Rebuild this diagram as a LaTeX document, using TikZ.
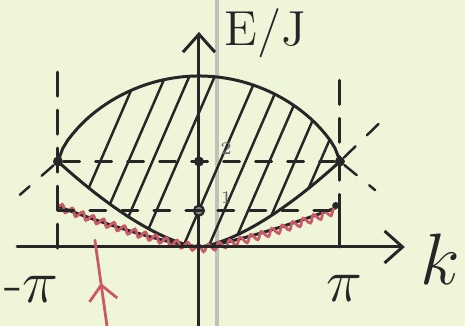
\documentclass[tikz,border=0pt]{standalone}
\usepackage{tikz}
\usetikzlibrary{arrows.meta, decorations.pathmorphing, decorations.markings, positioning}
\definecolor{paper}{HTML}{EEF5D8}
\definecolor{ink}{HTML}{262626}
\definecolor{redink}{HTML}{C95A68}
\definecolor{margin}{HTML}{BEC2B9}

\begin{document}
\begin{tikzpicture}[x=1.41cm, y=.4275cm, line cap=round,
    inkline/.style={draw=ink, line width=.85pt},
    longdash/.style={inkline, dash pattern=on 2.4mm off 1.4mm},
    shortdash/.style={inkline, dash pattern=on 1.6mm off 1.6mm},
    barb/.style={-{Straight Barb[length=1.8mm, width=3.2mm]}},
    dot/.style={circle, fill=ink, inner sep=0pt, minimum size=1mm},
    wavy/.style={draw=redink, line width=.8pt, decorate,
      decoration={snake, amplitude=.35mm, segment length=1.1mm}}]
        \useasboundingbox[fill=paper] (-1.411,-1.848) rectangle (1.887,5.778);
        \draw[margin, line width=1.3pt] (.128,-1.848) -- (.128,5.778);
        \def\upper{2+2*max(1-\x*\x,0.00001)^0.7}
        \def\lower{2*max(abs(\x),0.0001)^1.5}
        % hatching between the two band edges
        \begin{scope}
          \clip plot[domain=-1:1, samples=60] (\x, {\upper})
            -- plot[domain=1:-1, samples=60] (\x, {\lower}) -- cycle;
          \foreach \a in {-.70, -.50, -.33, -.15, .15, .33, .50, .68, .86}{
              \draw[inkline, line width=.7pt] (\a - .3, -.28) -- (\a + .3, 4.28);
            }
        \end{scope}
        \draw[inkline] plot[domain=-1:1, samples=60] (\x, {\upper});
        \draw[inkline] plot[domain=-1:1, samples=60] (\x, {\lower});
        \draw[inkline] plot[domain=-1:.97, samples=60] (\x, {.95*max(abs(\x),0.0001)^1.3});
        \draw[wavy] plot[domain=-1:.97, samples=60] (\x, {.95*max(abs(\x),0.0001)^1.3});
        % axes
        \coordinate (kstart) at (-1.29,0);
        \coordinate (kend) at (1.46,0);
        \coordinate (Estart) at (0,-1.848);
        \coordinate (Eend) at (0,5.03);
        \draw[inkline, barb] (kstart) -- (kend);
        \draw[inkline, barb] (Estart) -- (Eend);
        \node[font=\fontsize{14}{16}\selectfont, text=ink] (Elabel) at (.47,5.0) {E/J};
        \node[font=\fontsize{22}{24}\selectfont, text=ink] (klabel) at (1.71,-.28) {$k$};
        \node[font=\fontsize{17}{19}\selectfont, text=ink] (mpi) at (-1.19,-1.0) {-$\pi$};
        \node[font=\fontsize{17}{19}\selectfont, text=ink] (ppi) at (1.035,-.96) {$\pi$};
        % zone boundary and levels
        \node[dot] (lpi) at (-1,2) {};
        \node[dot] (rpi) at (1,2) {};
        \node[dot] (two) at (0,2) {};
        \node[dot, fill=ink!55, draw=ink, line width=.6pt] (one) at (0,.85) {};
        \node[dot, minimum size=.7mm] (tail) at (.97,.97) {};
        \node[font=\tiny, text=ink!70, right=.3mm of two, yshift=1.3mm] (twolabel) {2};
        \node[font=\tiny, text=ink!70, right=.3mm of one, yshift=1.3mm] (onelabel) {1};
        \coordinate (ltop) at (-1,4.09);
        \coordinate (lbot) at (-1,-.18);
        \coordinate (rtop) at (1,3.9);
        \coordinate (rmid) at (1,1.15);
        \coordinate (rbot) at (1,0);
        \coordinate (lone) at (-1,.85);
        \coordinate (rone) at (.93,.85);
        \draw[longdash] (ltop) -- (lbot);
        \draw[longdash] (rtop) -- (rmid);
        \draw[inkline] (rmid) -- (rbot);
        \draw[shortdash] (lpi) -- (rpi);
        \draw[shortdash] (lone) -- (rone);
        \coordinate (lout) at (-1.27,1.22);
        \coordinate (rup) at (1.34,3.09);
        \coordinate (rdown) at (1.25,1.33);
        \draw[shortdash, line width=.7pt] (lpi) -- (lout);
        \draw[shortdash, line width=.7pt] (rpi) -- (rup);
        \draw[shortdash, line width=.7pt] (rpi) -- (rdown);
        % red marker
        \coordinate (rfoot) at (-.652,-1.848);
        \coordinate (rhead) at (-.738,.16);
        \draw[redink, line width=.8pt, postaction={decorate},
          decoration={markings, mark=at position .5 with {\arrow[redink]{Straight Barb[length=1.5mm, width=2.8mm]}}}]
          (rfoot) -- (rhead);
      \end{tikzpicture}
\end{document}
